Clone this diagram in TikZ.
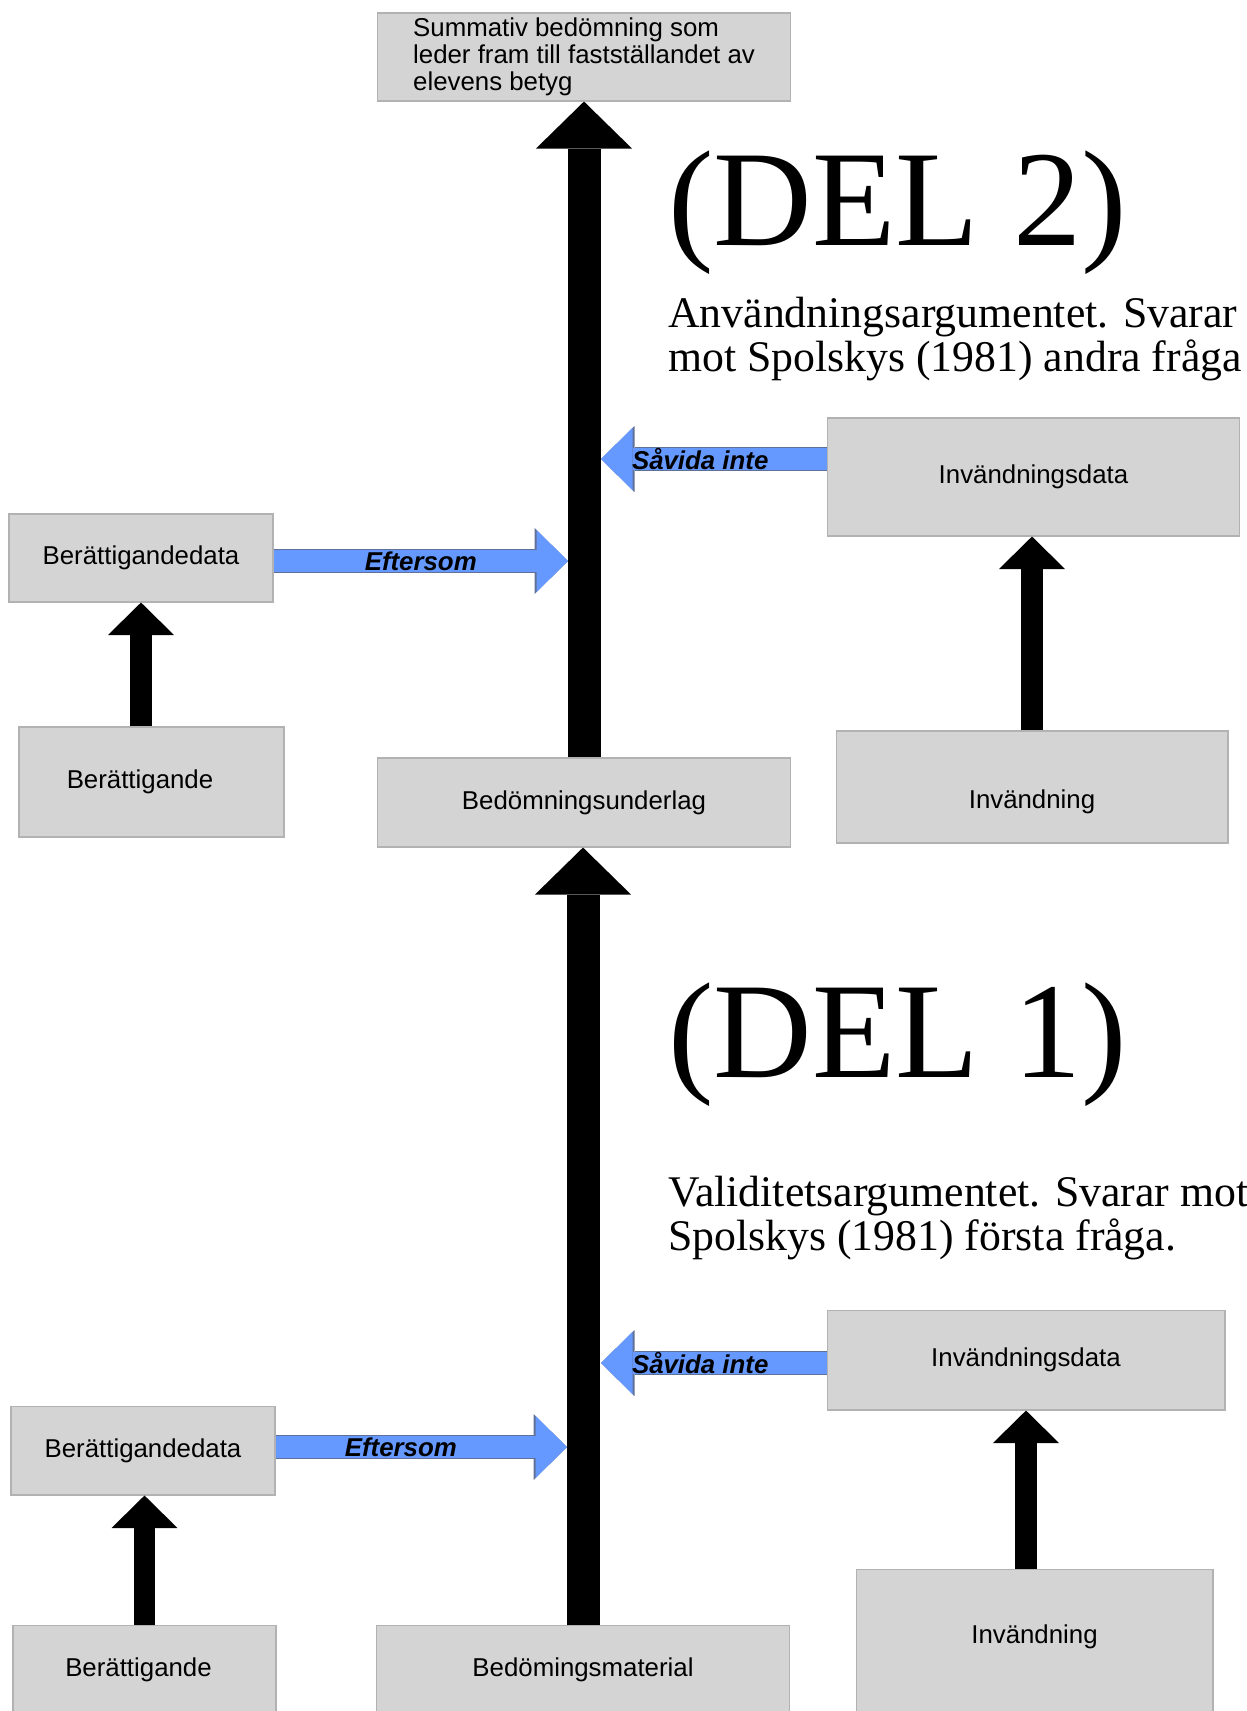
\documentclass[tikz,border=0pt]{standalone}
\usepackage{fontspec}
\setmainfont{Liberation Serif}
\setsansfont{Liberation Sans}
\usetikzlibrary{arrows.meta,positioning,calc}
\definecolor{boxgray}{RGB}{212,212,212}
\definecolor{boxedge}{RGB}{178,178,178}
\definecolor{arrowblue}{RGB}{102,153,255}
\definecolor{arrowedge}{RGB}{96,112,150}

\begin{document}
\begin{tikzpicture}[x=0.02cm, y=-0.02cm] % one unit = one pixel of the sketch
  % Define styles for boxes and arrows
  \tikzset{
    box/.style={
      draw=boxedge,
      fill=boxgray,
      line width=0.6pt,
      inner sep=0pt,
      font=\sffamily\fontsize{14.7}{15.5}\selectfont
    },
    bigarrow/.style={
      line width=0.66cm,
      -{Triangle[length=0.94cm, width=1.92cm, line width=0pt]}
    },
    smallarrow/.style={
      line width=0.44cm,
      -{Triangle[length=0.65cm, width=1.32cm, line width=0pt]}
    },
    bluearrow/.style={
      draw=arrowblue,
      line width=0.44cm,
      -{Triangle[length=0.63cm, width=1.24cm, line width=0pt]},
      preaction={draw=arrowedge, line width=0.48cm,
        -{Triangle[length=0.67cm, width=1.32cm, line width=0pt]}}
    },
    arrowtext/.style={
      font=\sffamily\bfseries\itshape\fontsize{14.7}{17}\selectfont,
      text=black
    },
    deltext/.style={
      anchor=base west,
      inner sep=0pt,
      font=\fontsize{77.7}{80}\selectfont
    },
    desctext/.style={
      anchor=base west,
      align=left,
      inner sep=0pt,
      font=\fontsize{24.9}{24.8}\selectfont
    }
  }
  \useasboundingbox (0,0) rectangle (1247,1711);

  % Boxes of part 2 (top half)
  \node[box, minimum width=8.28cm, minimum height=1.76cm, align=left] (top) at (584,57)
    {Summativ bedömning som\\leder fram till fastställandet av\\elevens betyg};
  \node[box, minimum width=8.28cm, minimum height=1.78cm] (under) at (584,802.5) {Bedömningsunderlag};
  \node[box, minimum width=5.28cm, minimum height=1.76cm] (bdata2) at (141,558) {Berättigandedata};
  \node[box, minimum width=5.30cm, minimum height=2.20cm] (berat2) at (151.5,782) {Berättigande\kern0.46cm};
  \node[box, minimum width=8.26cm, minimum height=2.36cm] (idata2) at (1033.5,477) {Invändningsdata};
  \node[box, minimum width=7.84cm, minimum height=2.24cm, text height=28pt, text depth=3.1pt] (inv2) at (1032,787) {Invändning};

  % Boxes of part 1 (bottom half)
  \node[box, minimum width=8.28cm, minimum height=1.78cm] (mat) at (583,1670) {Bedömingsmaterial};
  \node[box, minimum width=5.28cm, minimum height=1.78cm] (bdata1) at (143,1450.5) {Berättigandedata};
  \node[box, minimum width=5.26cm, minimum height=1.78cm] (berat1) at (144.5,1670) {Berättigande\kern0.24cm};
  \node[box, minimum width=7.96cm, minimum height=2.00cm] (idata1) at (1026,1360) {Invändningsdata};
  \node[box, minimum width=7.14cm, minimum height=3.20cm, text depth=17pt] (inv1) at (1034.5,1649) {Invändning};

  % Main arrows
  \draw[bigarrow] (under.north) -- (top.south);
  \draw[bigarrow] (mat.north) -- (mat.north |- under.south);

  % Small arrows
  \draw[smallarrow] (berat2.north -| bdata2) -- (bdata2.south);
  \draw[smallarrow] (inv2.north) -- (inv2.north |- idata2.south);
  \draw[smallarrow] (berat1.north) -- (berat1.north |- bdata1.south);
  \draw[smallarrow] (inv1.north -| idata1) -- (idata1.south);

  % Where the blue arrows meet the main shaft
  \coordinate (ef2) at (568,561);
  \coordinate (sv2) at (601,459);
  \coordinate (ef1) at (567,1447);
  \coordinate (sv1) at (601,1363);

  \draw[bluearrow] (bdata2.east |- ef2) -- node[arrowtext] {Eftersom} (ef2);
  \draw[bluearrow] (idata2.west |- sv2) -- node[arrowtext, pos=0.56] {Såvida inte} (sv2);
  \draw[bluearrow] (bdata1.east |- ef1) -- node[arrowtext, pos=0.43] {Eftersom} (ef1);
  \draw[bluearrow] (idata1.west |- sv1) -- node[arrowtext, pos=0.56] {Såvida inte} (sv1);

  % Headings
  \node[deltext] (del2) at (668,245) {(DEL 2)};
  \node[desctext] (use) at (668,371) {Användningsargumentet. Svarar\\mot Spolskys (1981) andra fråga};
  \node[deltext] (del1) at (668,1077) {(DEL 1)};
  \node[desctext] (valid) at (668,1250) {Validitetsargumentet. Svarar mot\\Spolskys (1981) första fråga.};
\end{tikzpicture}
\end{document}
